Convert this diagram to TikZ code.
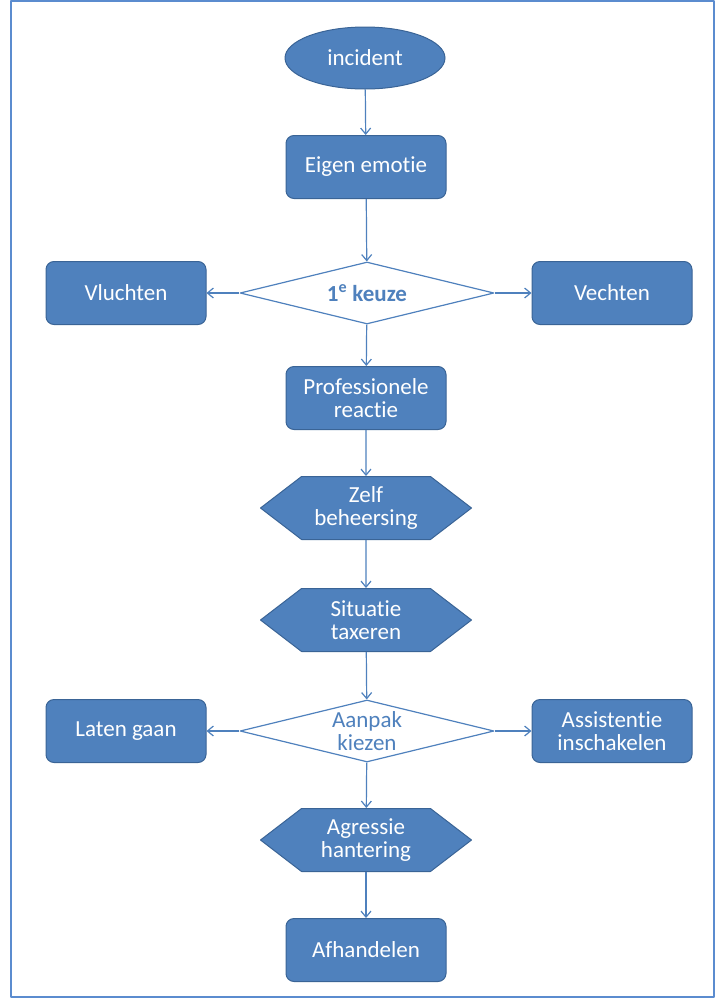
\documentclass[tikz,border=0pt]{standalone}
\usepackage{fontspec}
\setmainfont{Carlito}[Ligatures=NoCommon]
\usepackage{xcolor}
\usetikzlibrary{arrows.meta}
\usetikzlibrary{shapes.geometric}
\usetikzlibrary{shapes.symbols}
\usetikzlibrary{positioning}
\definecolor{office-blauw}{HTML}{4F81BD}
\definecolor{office-rand}{HTML}{3A6496}
\definecolor{office-kader}{HTML}{5B8CCF}

\begin{document}
\begin{tikzpicture}[x=1pt, y=-1pt, line join=round,
    every node/.style={font=\fontsize{23}{23.5}\selectfont, align=center},
    blok/.style={rectangle, rounded corners=8pt, fill=office-blauw, draw=office-rand, line width=1pt, text=white, minimum width=160pt, minimum height=63pt, inner sep=0pt},
    zeskant/.style={signal, signal to=west and east, signal pointer angle=75, fill=office-blauw, draw=office-rand, line width=1pt, text=white, minimum width=211pt, minimum height=63pt, inner sep=0pt},
    keuze/.style={diamond, aspect=4, fill=white, draw=office-blauw, line width=1.2pt, text=office-blauw, minimum width=254pt, minimum height=62pt, inner sep=0pt},
    pijl/.style={-{Straight Barb[length=6pt, width=10pt]}, draw=office-blauw, line width=1.2pt}]

    % frame
    \useasboundingbox (0,0) rectangle (717,999);
    \draw[office-kader, line width=2pt] (11,1) rectangle (714,997);

    % start
    \node (incident) at (365,58) [ellipse, fill=office-blauw, draw=office-rand, line width=1pt, text=white, minimum width=160pt, minimum height=62pt, inner sep=0pt] {incident};
    \node (emotie) at (366,167) [blok] {Eigen emotie};

    % eerste keuze
    \node (keuze1) at (367,293) [keuze] {\textbf{1\textsuperscript{e} keuze}};
    \node (vluchten) at (126,293) [blok] {Vluchten};
    \node (vechten) at (612,293) [blok] {Vechten};

    % reactie
    \node (reactie) at (366,398) [blok] {Professionele\\reactie};
    \node (zelf) at (366,508) [zeskant] {Zelf\\beheersing};
    \node (situatie) at (366,620) [zeskant] {Situatie\\taxeren};

    % aanpak
    \node (aanpak) at (367,731) [keuze] {Aanpak\\kiezen};
    \node (laten) at (126,731) [blok] {Laten gaan};
    \node (assistentie) at (612,731) [blok] {Assistentie\\inschakelen};

    % afronding
    \node (agressie) at (366,840) [zeskant] {Agressie\\hantering};
    \node (afhandelen) at (366,950) [blok] {Afhandelen};

    % pijlen
    \draw[pijl] (incident) -- (emotie);
    \draw[pijl] (emotie) -- (keuze1);
    \draw[pijl] (keuze1) -- (vluchten);
    \draw[pijl] (keuze1) -- (vechten);
    \draw[pijl] (keuze1) -- (reactie);
    \draw[pijl] (reactie) -- (zelf);
    \draw[pijl] (zelf) -- (situatie);
    \draw[pijl] (situatie) -- (aanpak);
    \draw[pijl] (aanpak) -- (laten);
    \draw[pijl] (aanpak) -- (assistentie);
    \draw[pijl] (aanpak) -- (agressie);
    \draw[pijl] (agressie) -- (afhandelen);

\end{tikzpicture}
\end{document}
